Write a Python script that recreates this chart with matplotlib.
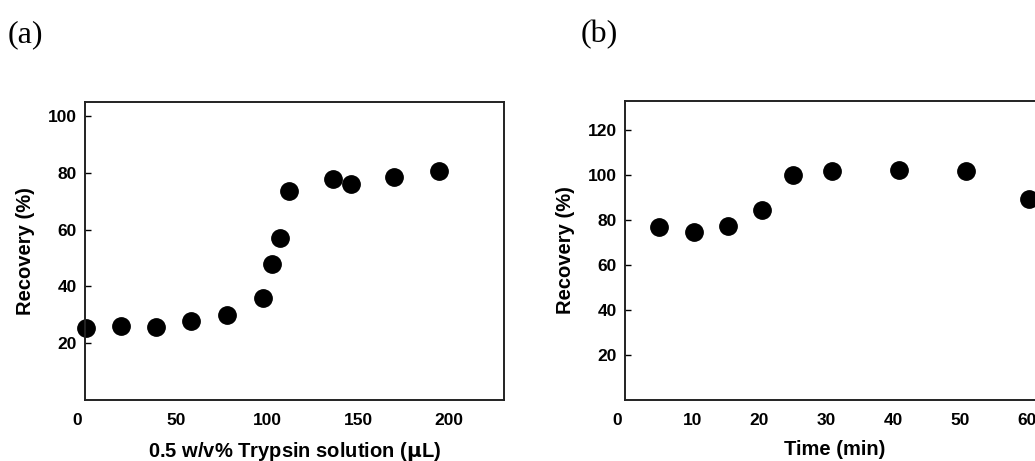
import matplotlib.pyplot as plt
import matplotlib.transforms as mtransforms

# (a) recovery vs trypsin volume
trypsin_ul = [0.5, 19.7, 38.9, 58.3, 78.0, 97.7, 102.5, 107.2, 112.0, 136.4, 145.9, 169.7, 194.5]
recovery_a = [25.4, 26.1, 25.8, 27.7, 29.8, 36.1, 48.1, 57.1, 73.7, 77.9, 76.0, 78.5, 80.8]

# (b) recovery vs time
time_min = [5.1, 10.3, 15.4, 20.4, 25.1, 30.8, 40.9, 50.9, 60.3]
recovery_b = [77.0, 74.7, 77.5, 84.5, 99.9, 102.0, 102.4, 102.0, 89.2]

xticks_a = [0, 50, 100, 150, 200]
yticks_a = [20, 40, 60, 80, 100]
xticks_b = [0, 10, 20, 30, 40, 50, 60]
yticks_b = [20, 40, 60, 80, 100, 120]

plt.rcParams['font.family'] = ['Liberation Sans', 'DejaVu Sans']
plt.rcParams['font.weight'] = 'bold'

fig = plt.figure(figsize=(10.35, 4.61), dpi=100)
ax1 = fig.add_axes([0.0821, 0.1323, 0.4048, 0.6464])
ax2 = fig.add_axes([0.6039, 0.1323, 0.4048, 0.6490])


def style(ax):
    for s in ax.spines.values():
        s.set_linewidth(1.4)
        s.set_color('#222222')
    ax.tick_params(axis='y', direction='in', length=4, width=1, pad=6, labelsize=12.5)
    ax.tick_params(axis='x', length=0, pad=9, labelsize=12.5)
    for lab in ax.get_xticklabels() + ax.get_yticklabels():
        lab.set_fontweight('bold')
    # the "0" label sits a little left of the axis corner in the original
    zero = ax.xaxis.get_major_ticks()[0].label1
    zero.set_transform(zero.get_transform() +
                       mtransforms.ScaledTranslation(-8 / 100, 0, fig.dpi_scale_trans))


ax1.plot(trypsin_ul, recovery_a, 'o', color='black', markersize=12.5, clip_on=False)
ax1.set_xlim(0, 230)
ax1.set_ylim(0, 105)
ax1.set_xticks(xticks_a)
ax1.set_yticks(yticks_a)
style(ax1)
ax1.set_xlabel('0.5 w/v% Trypsin solution ($\\mathbf{\\mu}$L)', fontsize=14.5, fontweight='bold', labelpad=9)
ax1.set_ylabel('Recovery (%)', fontsize=14.5, fontweight='bold', labelpad=9)

ax2.plot(time_min, recovery_b, 'o', color='black', markersize=12.5, clip_on=False)
ax2.set_xlim(0, 62.5)
ax2.set_ylim(0, 133)
ax2.set_xticks(xticks_b)
ax2.set_yticks(yticks_b)
style(ax2)
ax2.set_xlabel('Time (min)', fontsize=14.5, fontweight='bold', labelpad=9)
ax2.set_ylabel('Recovery (%)', fontsize=14.5, fontweight='bold', labelpad=9)

fig.text(0.007, 0.925, '(a)', fontsize=23, fontweight='normal',
         family=['Liberation Serif', 'DejaVu Serif'], va='center', ha='left')
fig.text(0.561, 0.925, '(b)', fontsize=23, fontweight='normal',
         family=['Liberation Serif', 'DejaVu Serif'], va='center', ha='left')

fig.savefig('out.png', dpi=100)
